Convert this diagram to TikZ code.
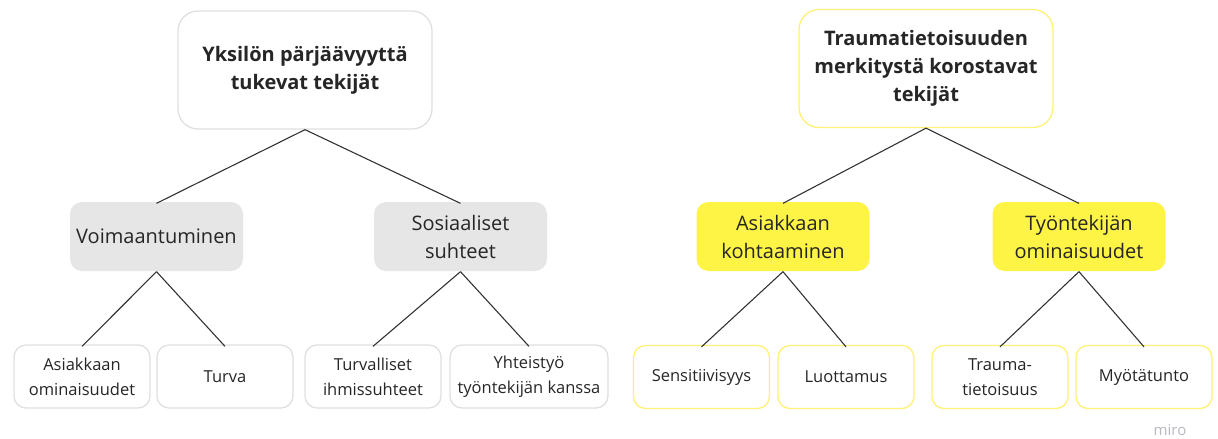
\documentclass[tikz,border=0pt]{standalone}
\usepackage{fontspec}
\setmainfont{Open Sans}
\definecolor{mgray}{HTML}{E6E6E6}
\definecolor{mborder}{HTML}{E0E0E0}
\definecolor{myellow}{HTML}{FEF445}
\definecolor{ybord}{HTML}{FFF176}
\definecolor{lcol}{HTML}{333333}
\definecolor{wm}{HTML}{B8B8C4}
\tikzset{
  box/.style={rounded corners=12pt, line width=1.3pt, align=center, text=black!85, inner sep=0pt},
  topbox/.style={box, fill=white, minimum width=254pt, minimum height=118pt, rounded corners=20pt, font=\fontsize{20}{28}\selectfont\bfseries},
  midbox/.style={box, minimum width=173pt, minimum height=69pt, font=\fontsize{20}{28}\selectfont},
  leafbox/.style={box, fill=white, minimum width=136pt, minimum height=63pt, font=\fontsize{16.5}{25}\selectfont},
  conn/.style={draw=lcol, line width=1.1pt},
}
\begin{document}
\begin{tikzpicture}[x=1pt,y=-1pt]
\useasboundingbox (0,0) rectangle (1218,439);
% left tree
\node[topbox, draw=mborder] (L) at (305,70) {Yksilön pärjäävyyttä\\tukevat tekijät};
\node[midbox, fill=mgray] (LA) at (156.5,236.5) {Voimaantuminen};
\node[midbox, fill=mgray] (LB) at (460.5,236.5) {Sosiaaliset\\suhteet};
\node[leafbox, draw=mborder] (LA1) at (82,376.5) {Asiakkaan\\ominaisuudet};
\node[leafbox, draw=mborder] (LA2) at (225,376.5) {Turva};
\node[leafbox, draw=mborder] (LB1) at (373,376.5) {Turvalliset\\ihmissuhteet};
\node[leafbox, draw=mborder, minimum width=158pt] (LB2) at (529,376.5) {Yhteistyö\\työntekijän kanssa};
% right tree
\node[topbox, draw=ybord] (R) at (926,68.5) {Traumatietoisuuden\\merkitystä korostavat\\tekijät};
\node[midbox, fill=myellow] (RA) at (783,236.5) {Asiakkaan\\kohtaaminen};
\node[midbox, fill=myellow] (RB) at (1079,236.5) {Työntekijän\\ominaisuudet};
\node[leafbox, draw=ybord] (RA1) at (701.5,377) {Sensitiivisyys};
\node[leafbox, draw=ybord] (RA2) at (846,377) {Luottamus};
\node[leafbox, draw=ybord] (RB1) at (1000,377) {Trauma-\\tietoisuus};
\node[leafbox, draw=ybord] (RB2) at (1144,377) {Myötätunto};
% connectors
\draw[conn] (L.south) -- ([yshift=-2pt]LA.north);
\draw[conn] (L.south) -- ([yshift=-2pt]LB.north);
\draw[conn] (LA.south) -- ([yshift=-2pt]LA1.north);
\draw[conn] (LA.south) -- ([yshift=-2pt]LA2.north);
\draw[conn] (LB.south) -- ([yshift=-2pt]LB1.north);
\draw[conn] (LB.south) -- ([yshift=-2pt]LB2.north);
\draw[conn] (R.south) -- ([yshift=-2pt]RA.north);
\draw[conn] (R.south) -- ([yshift=-2pt]RB.north);
\draw[conn] (RA.south) -- ([yshift=-2pt]RA1.north);
\draw[conn] (RA.south) -- ([yshift=-2pt]RA2.north);
\draw[conn] (RB.south) -- ([yshift=-2pt]RB1.north);
\draw[conn] (RB.south) -- ([yshift=-2pt]RB2.north);
\node[text=wm, font=\fontsize{15}{15}\selectfont, inner sep=0pt] (wmk) at (1170,430) {miro};
\end{tikzpicture}
\end{document}
